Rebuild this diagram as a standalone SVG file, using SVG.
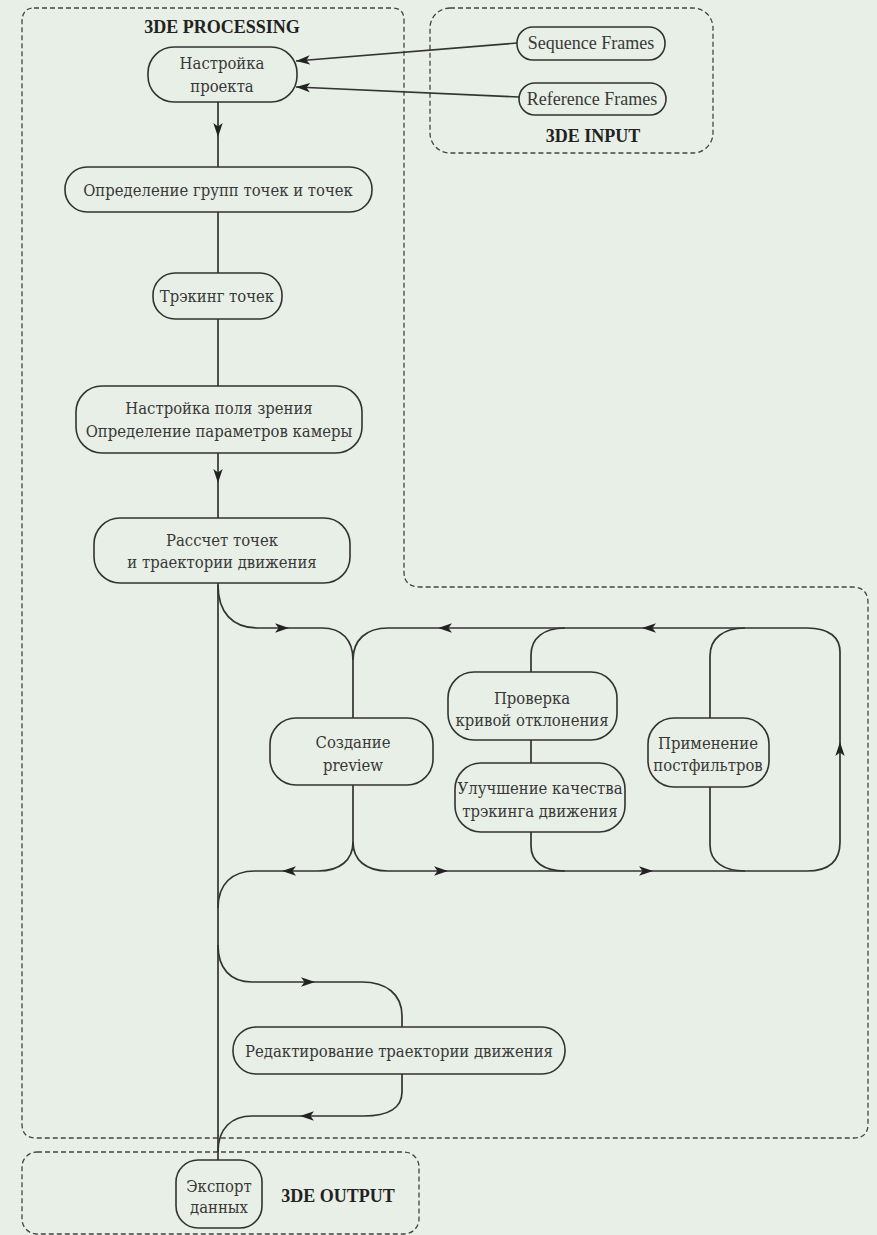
<svg xmlns="http://www.w3.org/2000/svg" width="877" height="1235" viewBox="0 0 877 1235">
<style>
.bg{fill:#e8efe6}
.node{fill:#e8efe6;stroke:#333;stroke-width:1.6}
.t{font-family:"DejaVu Serif Condensed","DejaVu Serif","Liberation Serif",serif;font-stretch:condensed;font-size:16.5px;fill:#383838;text-anchor:middle}
.tl{font-family:"Liberation Serif","Times New Roman",serif;font-size:18px;fill:#383838;text-anchor:middle}
.title{font-family:"Liberation Serif","Times New Roman",serif;font-size:18px;font-weight:bold;fill:#222;text-anchor:middle}
.dash{fill:none;stroke:#444;stroke-width:1.3;stroke-dasharray:5 3}
.c{fill:none;stroke:#333;stroke-width:1.7}
.a{marker-end:url(#arr)}
</style>
<defs>
<marker id="arr" viewBox="0 0 12 8" refX="12" refY="4" markerUnits="userSpaceOnUse" markerWidth="14" markerHeight="10" orient="auto">
<path d="M0,0 L12,4 L0,8 L3,4 z" fill="#222"/>
</marker>
</defs>
<rect class="bg" x="0" y="0" width="877" height="1235"/>

<g id="groups">
<path id="processing-box" class="dash" d="M34,8 H392 Q404,8 404,20 V572 Q404,587 420,587 H852 Q868,587 868,603 V1124 Q868,1138 854,1138 H36 Q22,1138 22,1124 V22 Q22,8 34,8 Z"/>
<text class="title" x="222" y="33">3DE PROCESSING</text>
<rect id="input-box" class="dash" x="430" y="8" width="283" height="145" rx="20"/>
<text class="title" x="593" y="142">3DE INPUT</text>
<rect id="output-box" class="dash" x="22" y="1152" width="397" height="82" rx="15"/>
<text class="title" x="338" y="1202">3DE OUTPUT</text>
</g>

<g id="connectors">
<path class="c a" d="M517,43 L296,61"/>
<path class="c a" d="M519,97 L296,87"/>
<path class="c a" d="M218,102 V137"/>
<path class="c" d="M218,137 V167"/>
<path class="c" d="M218,212 V273"/>
<path class="c" d="M218,319 V386"/>
<path class="c a" d="M218,453 V483"/>
<path class="c" d="M218,483 V518"/>
<path class="c" d="M218,583 V1160"/>
<path class="c a" d="M218,585 C218,612 232,628 258,628 H289"/>
<path class="c" d="M289,628 H322 C342,628 353,640 353,660 V718"/>
<path class="c a" d="M807,628 H642"/>
<path class="c a" d="M642,628 H438"/>
<path class="c" d="M438,628 H388 C366,628 353,640 353,660"/>
<path class="c" d="M531,672 V655 C531,638 544,628 565,628"/>
<path class="c" d="M531,740 V763"/>
<path class="c" d="M531,832 V846 C531,862 544,871 565,871"/>
<path class="c" d="M710,718 V656 C710,638 724,628 745,628"/>
<path class="c" d="M710,787 V845 C710,862 724,871 745,871"/>
<path class="c" d="M353,785 V842"/>
<path class="c a" d="M353,842 C353,860 366,871 388,871 H448"/>
<path class="c a" d="M448,871 H653"/>
<path class="c a" d="M653,871 H807 C830,871 840,860 840,842 V742"/>
<path class="c" d="M840,742 V652 C840,638 830,628 807,628"/>
<path class="c a" d="M353,842 C353,860 340,871 318,871 H282"/>
<path class="c" d="M282,871 H255 C232,871 218,884 218,908"/>
<path class="c a" d="M218,945 C218,968 230,982 252,982 H315"/>
<path class="c" d="M315,982 H362 C386,982 402,994 402,1016 V1027"/>
<path class="c a" d="M402,1074 V1092 C402,1108 388,1116 364,1116 H300"/>
<path class="c" d="M300,1116 H252 C232,1116 218,1128 218,1152"/>
</g>

<g id="n-sequence"><rect class="node" x="517" y="27" width="148" height="33" rx="16"/><text class="tl" x="591" y="49">Sequence Frames</text></g>
<g id="n-reference"><rect class="node" x="519" y="83" width="147" height="32" rx="16"/><text class="tl" x="592" y="105">Reference Frames</text></g>
<g id="n-setup"><rect class="node" x="148" y="47" width="149" height="55" rx="26"/><text class="t" x="222" y="69">Настройка</text><text class="t" x="222" y="92">проекта</text></g>
<g id="n-groups"><rect class="node" x="65" y="167" width="307" height="45" rx="22"/><text class="t" x="218" y="196">Определение групп точек и точек</text></g>
<g id="n-tracking"><rect class="node" x="153" y="273" width="129" height="46" rx="22"/><text class="t" x="217" y="302">Трэкинг точек</text></g>
<g id="n-fov"><rect class="node" x="76" y="386" width="286" height="67" rx="26"/><text class="t" x="219" y="414">Настройка поля зрения</text><text class="t" x="219" y="437">Определение параметров камеры</text></g>
<g id="n-solve"><rect class="node" x="94" y="518" width="256" height="65" rx="26"/><text class="t" x="222" y="546">Рассчет точек</text><text class="t" x="222" y="568">и траектории движения</text></g>
<g id="n-preview"><rect class="node" x="270" y="718" width="163" height="67" rx="26"/><text class="t" x="353" y="748">Создание</text><text class="t" x="353" y="771">preview</text></g>
<g id="n-check"><rect class="node" x="448" y="672" width="169" height="68" rx="26"/><text class="t" x="532" y="704">Проверка</text><text class="t" x="532" y="726">кривой отклонения</text></g>
<g id="n-improve"><rect class="node" x="455" y="763" width="170" height="69" rx="26"/><text class="t" x="540" y="794">Улучшение качества</text><text class="t" x="540" y="817">трэкинга движения</text></g>
<g id="n-postfilter"><rect class="node" x="648" y="718" width="121" height="69" rx="26"/><text class="t" x="708" y="749">Применение</text><text class="t" x="708" y="771">постфильтров</text></g>
<g id="n-edit"><rect class="node" x="233" y="1027" width="332" height="47" rx="23"/><text class="t" x="399" y="1057">Редактирование траектории движения</text></g>
<g id="n-export"><rect class="node" x="176" y="1160" width="86" height="68" rx="22"/><text class="t" x="219" y="1192">Экспорт</text><text class="t" x="219" y="1213">данных</text></g>
</svg>
